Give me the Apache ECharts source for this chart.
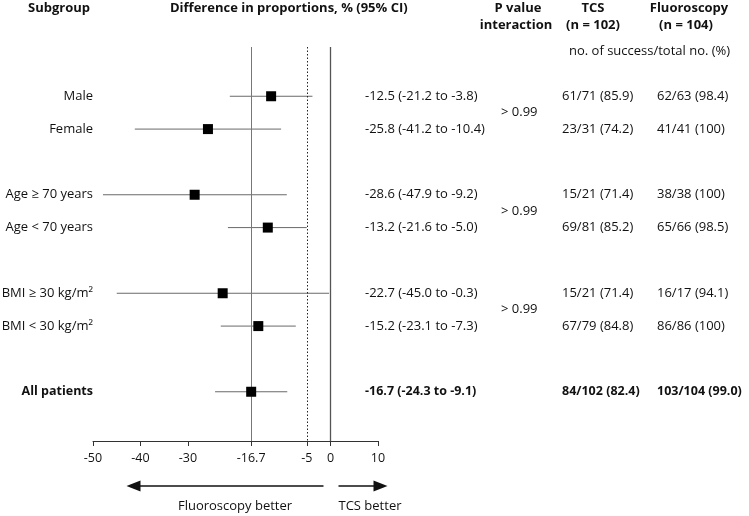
<!DOCTYPE html>
<html>
<head>
<meta charset="utf-8">
<script src="https://cdn.jsdelivr.net/npm/echarts@6/dist/echarts.min.js"></script>
<style>
  html, body { margin: 0; padding: 0; background: #fff; }
  #chart { width: 749px; height: 516px; }
</style>
</head>
<body>
<div id="chart"></div>
<script>
// rows of the forest plot (row index on the y scale, blank rows between groups)
const subgroups = ['Male', 'Female', 'Age ≥ 70 years', 'Age < 70 years', 'BMI ≥ 30 kg/m²', 'BMI < 30 kg/m²', 'All patients']
const rowIndex = [0, 1, 3, 4, 6, 7, 9]
const estimates = [-12.5, -25.8, -28.6, -13.2, -22.7, -15.2, -16.7]
const lower = [-21.2, -41.2, -47.9, -21.6, -45.0, -23.1, -24.3]
const upper = [-3.8, -10.4, -9.2, -5.0, -0.3, -7.3, -9.1]
const ciText = ['-12.5 (-21.2 to -3.8)', '-25.8 (-41.2 to -10.4)', '-28.6 (-47.9 to -9.2)', '-13.2 (-21.6 to -5.0)',
  '-22.7 (-45.0 to -0.3)', '-15.2 (-23.1 to -7.3)', '-16.7 (-24.3 to -9.1)']
const tcs = ['61/71 (85.9)', '23/31 (74.2)', '15/21 (71.4)', '69/81 (85.2)', '15/21 (71.4)', '67/79 (84.8)', '84/102 (82.4)']
const fluoro = ['62/63 (98.4)', '41/41 (100)', '38/38 (100)', '65/66 (98.5)', '16/17 (94.1)', '86/86 (100)', '103/104 (99.0)']
const pValues = ['> 0.99', '> 0.99', '> 0.99']
const pRows = [0.5, 3.5, 6.5]
const xTicks = [-50, -40, -30, -16.7, -5, 0, 10]
const overallEstimate = -16.7
const boundary = -5

const FONT = '"Open Sans", sans-serif'
const chart = echarts.init(document.getElementById('chart'))

const option = {
  animation: false,
  grid: { left: 93, right: 371, top: 47, bottom: 75 },
  xAxis: {
    type: 'value',
    min: -50,
    max: 10,
    splitLine: { show: false },
    axisLine: { onZero: false, lineStyle: { color: '#333', width: 1 } },
    axisTick: { customValues: xTicks, length: 5, lineStyle: { color: '#333' } },
    axisLabel: { customValues: xTicks, color: '#111', fontSize: 12.5, fontFamily: FONT, margin: 11 }
  },
  yAxis: { type: 'value', inverse: true, min: -1.5, max: 10.5, show: false },
  series: [
    {
      type: 'custom',
      encode: { x: [0, 1], y: 2 },
      data: rowIndex.map((r, i) => [lower[i], upper[i], r]),
      renderItem: (params, api) => {
        const a = api.coord([api.value(0), api.value(2)])
        const b = api.coord([api.value(1), api.value(2)])
        return {
          type: 'line',
          shape: { x1: a[0], y1: a[1], x2: b[0], y2: b[1] },
          style: { stroke: '#6a6a6a', lineWidth: 1 }
        }
      },
      z: 3
    },
    {
      type: 'scatter',
      symbol: 'rect',
      symbolSize: 10,
      itemStyle: { color: '#000', opacity: 1 },
      data: rowIndex.map((r, i) => [estimates[i], r]),
      z: 5,
      markLine: {
        silent: true,
        symbol: 'none',
        label: { show: false },
        data: [
          { xAxis: overallEstimate, lineStyle: { color: '#777', width: 1, type: 'solid' } },
          { xAxis: boundary, lineStyle: { color: '#222', width: 1, type: [1.5, 2] } },
          { xAxis: 0, lineStyle: { color: '#555', width: 1.3, type: 'solid' } }
        ]
      }
    }
  ]
}
chart.setOption(option)

// text columns and arrows placed on the same y scale as the rows
const px = (x, y) => chart.convertToPixel({ gridIndex: 0 }, [x, y])
const txt = (text, x, y, opts = {}) => ({
  type: 'text',
  x, y,
  style: {
    text,
    fill: '#111',
    fontFamily: FONT,
    fontSize: opts.size || 13,
    fontWeight: opts.bold ? 'bold' : 'normal',
    textAlign: opts.align || 'left',
    textVerticalAlign: 'middle'
  }
})

const g = []
// headers
g.push(txt('Subgroup', 28, 8, { bold: true, size: 13 }))
g.push(txt('Difference in proportions, % (95% CI)', 170, 8, { bold: true, size: 13 }))
g.push(txt('P value', 518, 8, { bold: true, size: 13, align: 'center' }))
g.push(txt('interaction', 516, 25, { bold: true, size: 13, align: 'center' }))
g.push(txt('TCS', 593, 8, { bold: true, size: 13, align: 'center' }))
g.push(txt('(n = 102)', 593, 25, { bold: true, size: 13, align: 'center' }))
g.push(txt('Fluoroscopy', 689, 8, { bold: true, size: 13, align: 'center' }))
g.push(txt('(n = 104)', 686, 25, { bold: true, size: 13, align: 'center' }))
g.push(txt('no. of success/total no. (%)', 569, 51))

rowIndex.forEach((r, i) => {
  const y = px(0, r)[1]
  const bold = i === rowIndex.length - 1
  const size = bold ? 12.5 : 13
  g.push(txt(subgroups[i], 93, y, { align: 'right', bold, size }))
  g.push(txt(ciText[i], 365, y, { bold, size }))
  g.push(txt(tcs[i], 562, y, { bold, size }))
  g.push(txt(fluoro[i], 657, y, { bold, size }))
})
pRows.forEach((r, i) => {
  g.push(txt(pValues[i], 501, px(0, r)[1]))
})

// direction arrows under the axis
const zeroX = px(0, 0)[0]
const arrowY = 486
g.push({ type: 'line', shape: { x1: zeroX - 7, y1: arrowY, x2: zeroX - 194, y2: arrowY }, style: { stroke: '#111', lineWidth: 1.5 } })
g.push({ type: 'polygon', shape: { points: [[zeroX - 204, arrowY], [zeroX - 190, arrowY - 5.5], [zeroX - 190, arrowY + 5.5]] }, style: { fill: '#111' } })
g.push({ type: 'line', shape: { x1: zeroX + 8, y1: arrowY, x2: zeroX + 46, y2: arrowY }, style: { stroke: '#111', lineWidth: 1.5 } })
g.push({ type: 'polygon', shape: { points: [[zeroX + 57, arrowY], [zeroX + 43, arrowY - 5.5], [zeroX + 43, arrowY + 5.5]] }, style: { fill: '#111' } })
g.push(txt('Fluoroscopy better', 235, 506, { align: 'center' }))
g.push(txt('TCS better', zeroX + 8, 506))

chart.setOption({ graphic: g })
</script>
</body>
</html>
